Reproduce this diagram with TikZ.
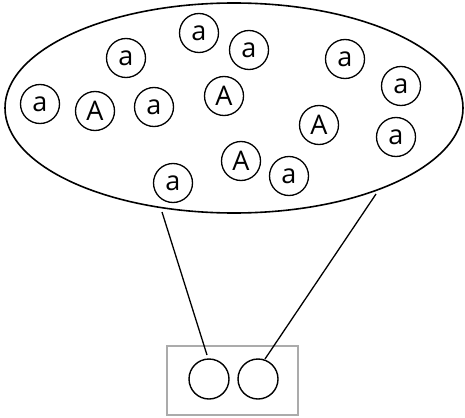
\documentclass[tikz,border=0pt]{standalone}
\usepackage{fontspec}
\setmainfont{Open Sans}
\usetikzlibrary{shapes.geometric}
\begin{document}
\begin{tikzpicture}[x=1pt,y=-1pt,
  atom/.style={draw,circle,line width=1.3pt,minimum size=39pt,inner sep=0pt,font=\fontsize{27}{27}\selectfont},
  slot/.style={draw,circle,line width=1.4pt,minimum size=40pt,inner sep=0pt},
  link/.style={line width=1.3pt}]
\useasboundingbox (0,0) rectangle (465,417);
\node[draw,ellipse,line width=1.6pt,minimum width=458pt,minimum height=210pt,inner sep=0pt] (pool) at (234,108) {};
\node[atom] (a1) at (126,58) {a};
\node[atom] (a2) at (199,33) {a};
\node[atom] (a3) at (249,50) {a};
\node[atom] (a4) at (345,59) {a};
\node[atom] (a5) at (401,86) {a};
\node[atom] (a6) at (40,104) {a};
\node[atom] (A1) at (95,111) {A};
\node[atom] (a7) at (154,107) {a};
\node[atom] (A2) at (224,96) {A};
\node[atom] (A3) at (319,125) {A};
\node[atom] (a8) at (396,137) {a};
\node[atom] (A4) at (241,161) {A};
\node[atom] (a9) at (289,176) {a};
\node[atom] (a10) at (173,183) {a};
\node[draw=black!33,line width=1.4pt,minimum width=131pt,minimum height=69pt,inner sep=0pt] (box) at (232.5,380.5) {};
\node[slot] (s1) at (209,379) {};
\node[slot] (s2) at (258,379) {};
\coordinate (p1) at (162,212);
\coordinate (p2) at (376,194);
\coordinate (e1) at (207,355);
\coordinate (e2) at (265,359);
\draw[link] (p1) -- (e1);
\draw[link] (p2) -- (e2);
\end{tikzpicture}
\end{document}
